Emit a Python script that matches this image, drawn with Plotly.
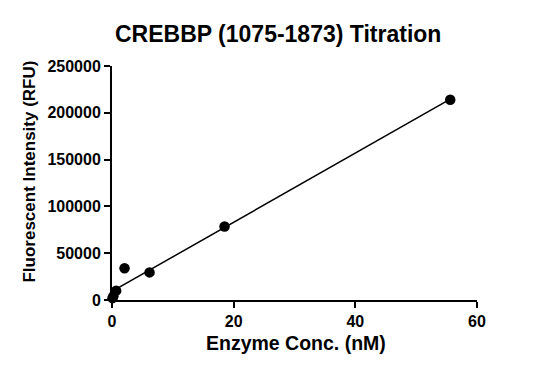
import numpy as np
import plotly.graph_objects as go

conc_nM = [55.6, 18.5, 6.17, 2.06, 0.686, 0.229, 0.076]
rfu = [214000, 78500, 29500, 34000, 10000, 4000, 2000]
x_ticks = [0, 20, 40, 60]
y_ticks = [0, 50000, 100000, 150000, 200000, 250000]

slope, intercept = np.polyfit(conc_nM, rfu, 1)
fit_x = [0, max(conc_nM)]
fit_y = [intercept + slope * v for v in fit_x]

font = "Liberation Sans, Arial, sans-serif"

fig = go.Figure()
fig.add_trace(go.Scatter(x=fit_x, y=fit_y, mode="lines",
                         line=dict(color="black", width=1.5), cliponaxis=False))
fig.add_trace(go.Scatter(x=conc_nM, y=rfu, mode="markers",
                         marker=dict(color="black", size=10.5), cliponaxis=False))

fig.update_layout(
    width=533, height=374,
    margin=dict(l=104, r=64, t=58, b=82),
    paper_bgcolor="white", plot_bgcolor="white",
    showlegend=False,
    font=dict(family=font, color="black"),
    annotations=[
        dict(text="<b>CREBBP (1075-1873) Titration</b>", xref="paper", yref="paper",
             x=0.455, y=1.0, yshift=32, xanchor="center", yanchor="middle",
             showarrow=False, font=dict(size=23)),
        dict(text="<b>Enzyme Conc. (nM)</b>", xref="paper", yref="paper",
             x=0.504, y=0, yshift=-43, xanchor="center", yanchor="middle",
             showarrow=False, font=dict(size=19.5)),
        dict(text="<b>Fluorescent Intensity (RFU)</b>", xref="paper", yref="paper",
             x=0, xshift=-82, y=0.549, xanchor="center", yanchor="middle",
             showarrow=False, textangle=-90, font=dict(size=17)),
    ],
)
fig.update_xaxes(range=[0, 60], tickvals=x_ticks, showgrid=False, zeroline=False,
                 showline=True, linecolor="black", linewidth=2,
                 ticks="outside", ticklen=6, tickwidth=2, tickcolor="black",
                 tickfont=dict(size=16, family=font, weight="bold"))
fig.update_yaxes(range=[0, 250000], tickvals=y_ticks, showgrid=False, zeroline=False,
                 showline=True, linecolor="black", linewidth=2,
                 ticks="outside", ticklen=6, tickwidth=2, tickcolor="black",
                 tickformat="d",
                 tickfont=dict(size=16, family=font, weight="bold"))

fig.write_html("out.html")
